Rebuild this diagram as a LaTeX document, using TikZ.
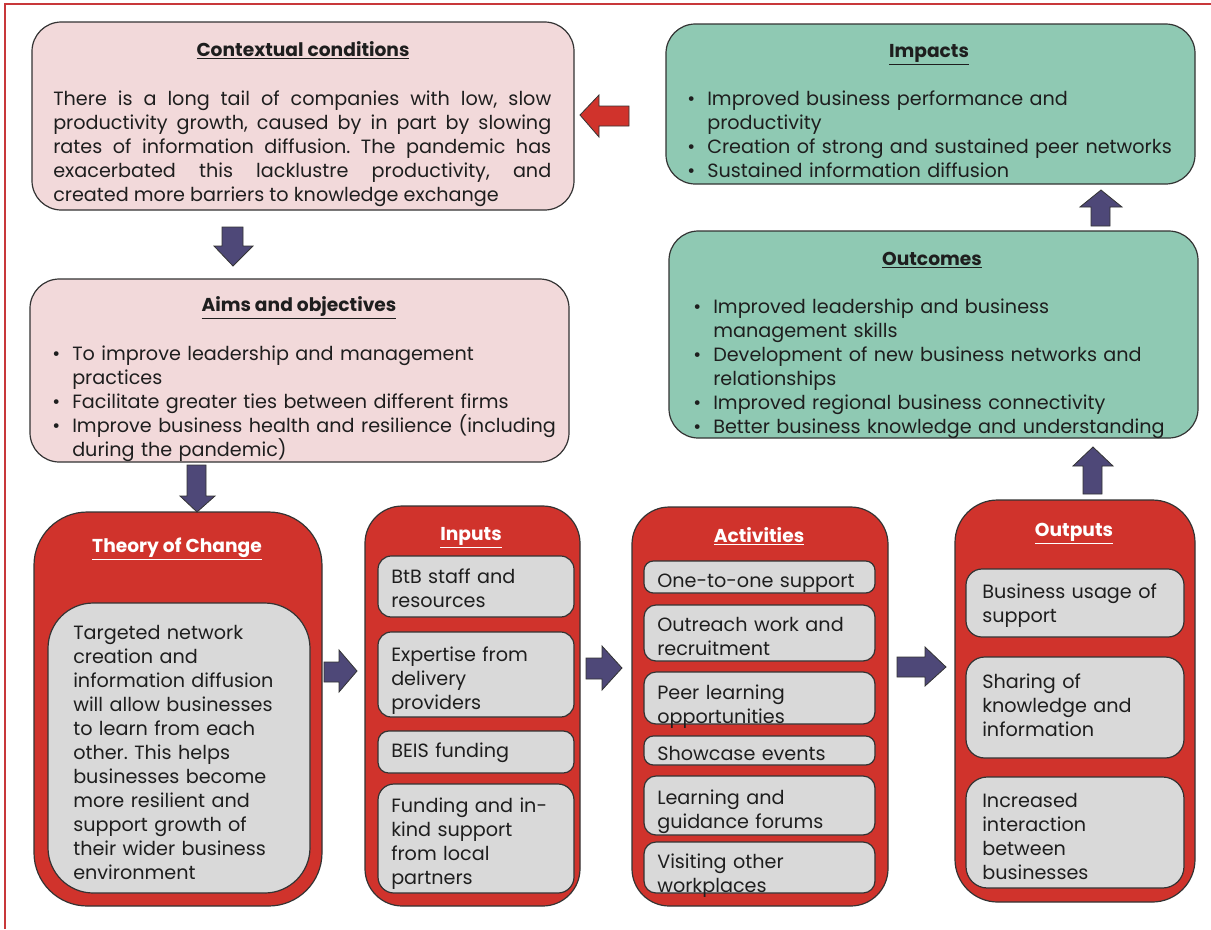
\documentclass[tikz,border=0pt]{standalone}
\usepackage{fontspec}
\setmainfont{Poppins}
\frenchspacing
\usetikzlibrary{fit}
\definecolor{pinkfill}{HTML}{F2D9DA}
\definecolor{tealfill}{HTML}{8FC9B3}
\definecolor{redfill}{HTML}{D0332C}
\definecolor{grayfill}{HTML}{D9D9D9}
\definecolor{navy}{HTML}{4E4878}
\definecolor{framered}{HTML}{C8383A}
\definecolor{edge}{HTML}{333333}
\definecolor{ink}{HTML}{1E1E1E}
\newcommand{\bul}{\makebox[15pt][l]{•}}
\newcommand{\ind}{\hspace*{15pt}}
\tikzset{
  x=0.75pt, y=-0.75pt,
  panel/.style={draw=edge, line width=0.9pt, inner sep=0pt},
  pinkpanel/.style={panel, fill=pinkfill, rounded corners=22pt},
  tealpanel/.style={panel, fill=tealfill, rounded corners=22pt},
  redpanel/.style={panel, fill=redfill, rounded corners=#1},
  graypanel/.style={panel, fill=grayfill, rounded corners=#1},
  body/.style={anchor=base west, inner sep=0pt, text width=400pt, align=left,
    text=ink, font=\fontsize{14.4}{18}\selectfont},
  heading/.style={anchor=base, inner sep=0pt, text=ink,
    font=\fontsize{14}{18}\selectfont\bfseries},
  whiteheading/.style={heading, text=white},
  blockarrow/.style={draw=edge, line width=0.6pt, fill=navy, line join=miter},
}
\begin{document}
\begin{tikzpicture}
\useasboundingbox (0,0) rectangle (1211,929);

% page frame
\draw[framered, line width=1.5pt] (5,929) -- (5,4) -- (1211,4);

% ---------- top-left: context and aims ----------
\node[pinkpanel, fit={(32,22) (574,210)}] (context) {};
\node[heading] (contextT) at (303,56) {\underline{Contextual conditions}};
\node[body, text width=373.5pt, align=justify] (contextB) at (53,105)
  {There is a long tail of companies with low, slow\linebreak
   productivity growth, caused by in part by slowing\linebreak
   rates of information diffusion. The pandemic has\linebreak
   exacerbated this lacklustre productivity, and\linebreak
   created more barriers to knowledge exchange};

\node[pinkpanel, fit={(30,279) (569,462)}] (aims) {};
\node[heading] (aimsT) at (299,311) {\underline{Aims and objectives}};
\node[body] (aimsB) at (52,360)
  {\bul To improve leadership and management\\
   \ind practices\\
   \bul Facilitate greater ties between different firms\\
   \bul Improve business health and resilience (including\\
   \ind during the pandemic)};

% ---------- top-right: impacts and outcomes ----------
\node[tealpanel, fit={(666,24) (1195,184)}] (impacts) {};
\node[heading] (impactsT) at (929,57) {\underline{Impacts}};
\node[body] (impactsB) at (687,105)
  {\bul Improved business performance and\\
   \ind productivity\\
   \bul Creation of strong and sustained peer networks\\
   \bul Sustained information diffusion};

\node[tealpanel, fit={(669,231) (1198,438)}] (outcomes) {};
\node[heading] (outcomesT) at (932,265) {\underline{Outcomes}};
\node[body] (outcomesB) at (693,313)
  {\bul Improved leadership and business\\
   \ind management skills\\
   \bul Development of new business networks and\\
   \ind relationships\\
   \bul Improved regional business connectivity\\
   \bul Better business knowledge and understanding};

% ---------- bottom row: theory of change ----------
\node[redpanel=40pt, fit={(34,512) (322,906)}] (toc) {};
\node[whiteheading] (tocT) at (177,552) {\underline{Theory of Change}};
\node[graypanel=34pt, fit={(48,603) (310,893)}] (tocBox) {};
\node[body] (tocB) at (73,639)
  {Targeted network\\ creation and\\ information diffusion\\
   will allow businesses\\ to learn from each\\ other. This helps\\
   businesses become\\ more resilient and\\ support growth of\\
   their wider business\\ environment};

% inputs
\node[redpanel=28pt, fit={(365,506) (580,906)}] (inputs) {};
\node[whiteheading] (inputsT) at (471,540) {\underline{Inputs}};
\node[graypanel=10pt, fit={(378,556) (574,617)}] (in1) {};
\node[graypanel=10pt, fit={(378,632) (574,717)}] (in2) {};
\node[graypanel=8pt, fit={(378,731) (574,773)}] (in3) {};
\node[graypanel=12pt, fit={(378,784) (574,893)}] (in4) {};
\node[body] (in1T) at (391,583) {BtB staff and\\ resources};
\node[body] (in2T) at (391,661) {Expertise from\\ delivery\\ providers};
\node[body] (in3T) at (391,757) {BEIS funding};
\node[body] (in4T) at (391,812) {Funding and in-\\ kind support\\ from local\\ partners};

% activities
\node[redpanel=28pt, fit={(632,507) (888,906)}] (activities) {};
\node[whiteheading] (activitiesT) at (759,542) {\underline{Activities}};
\node[graypanel=7pt, fit={(644,561) (875,593)}] (ac1) {};
\node[graypanel=9pt, fit={(644,605) (875,661)}] (ac2) {};
\node[graypanel=9pt, fit={(644,672) (875,724)}] (ac3) {};
\node[graypanel=7pt, fit={(644,736) (875,765)}] (ac4) {};
\node[graypanel=9pt, fit={(644,776) (875,835)}] (ac5) {};
\node[graypanel=9pt, fit={(644,842) (875,893)}] (ac6) {};
\node[body] (ac1T) at (657,587) {One-to-one support};
\node[body] (ac2T) at (657,631) {Outreach work and\\ recruitment};
\node[body] (ac3T) at (657,699) {Peer learning\\ opportunities};
\node[body] (ac4T) at (657,760) {Showcase events};
\node[body] (ac5T) at (657,804) {Learning and\\ guidance forums};
\node[body] (ac6T) at (657,868) {Visiting other\\ workplaces};

% outputs
\node[redpanel=32pt, fit={(955,500) (1195,902)}] (outputs) {};
\node[whiteheading] (outputsT) at (1074,536) {\underline{Outputs}};
\node[graypanel=12pt, fit={(966,569) (1184,637)}] (out1) {};
\node[graypanel=14pt, fit={(966,657) (1184,758)}] (out2) {};
\node[graypanel=16pt, fit={(966,777) (1184,888)}] (out3) {};
\node[body] (out1T) at (982,598) {Business usage of\\ support};
\node[body] (out2T) at (982,688) {Sharing of\\ knowledge and\\ information};
\node[body] (out3T) at (982,807) {Increased\\ interaction\\ between\\ businesses};

% ---------- block arrows ----------
% impacts feed back into the context
\draw[blockarrow, fill=redfill] (629,106) -- (599,106) -- (599,95) -- (580,115)
  -- (599,137) -- (599,126) -- (629,126) -- cycle;
% context -> aims
\draw[blockarrow] (222,227) -- (243,227) -- (243,246) -- (253,246) -- (233,266)
  -- (214,246) -- (222,246) -- cycle;
% aims -> theory of change
\draw[blockarrow] (187,465) -- (206,465) -- (206,496) -- (215,496) -- (197,512)
  -- (180,496) -- (187,496) -- cycle;
% theory of change -> inputs
\draw[blockarrow] (324,662) -- (339,662) -- (339,650) -- (357,671) -- (339,692)
  -- (339,682) -- (324,682) -- cycle;
% inputs -> activities
\draw[blockarrow] (586,658) -- (602,658) -- (602,646) -- (622,668) -- (602,690)
  -- (602,679) -- (586,679) -- cycle;
% activities -> outputs
\draw[blockarrow] (897,657) -- (925,657) -- (925,647) -- (946,667) -- (925,686)
  -- (925,677) -- (897,677) -- cycle;
% outputs -> outcomes
\draw[blockarrow] (1083,494) -- (1083,466) -- (1073,466) -- (1093,447) -- (1113,466)
  -- (1102,466) -- (1102,494) -- cycle;
% outcomes -> impacts
\draw[blockarrow] (1091,226) -- (1091,207) -- (1080,207) -- (1101,190) -- (1122,207)
  -- (1110,207) -- (1110,226) -- cycle;
\end{tikzpicture}
\end{document}
